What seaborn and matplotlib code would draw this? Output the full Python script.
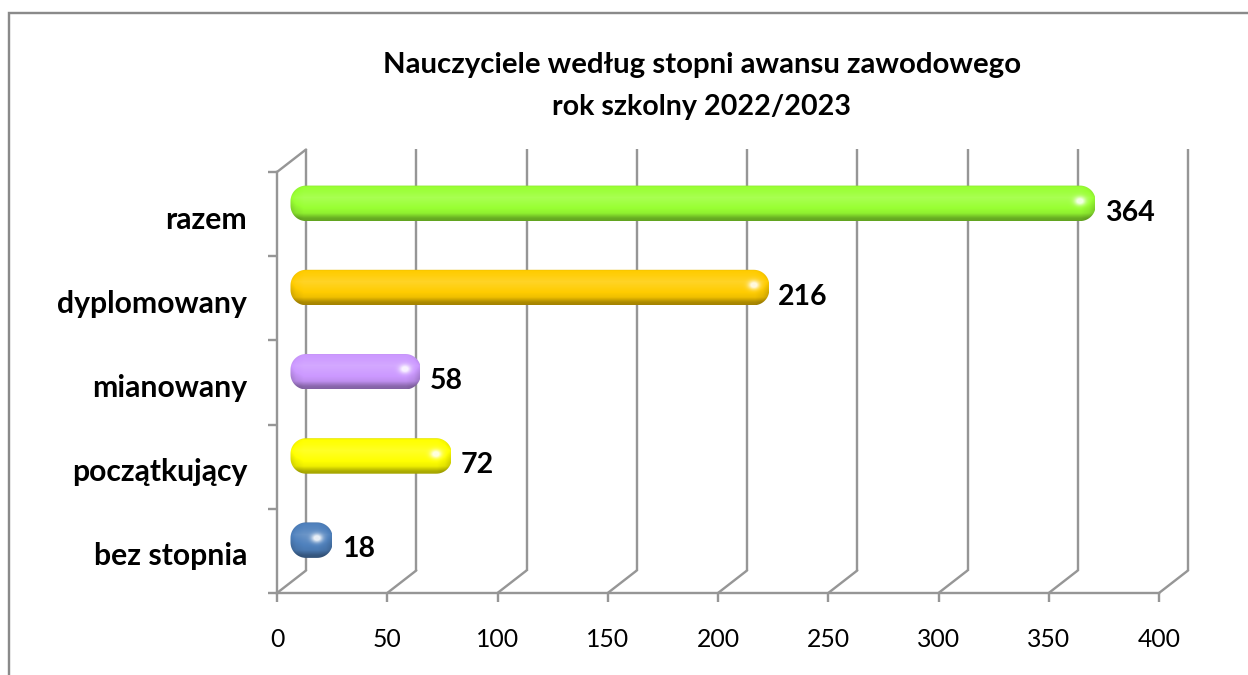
import numpy as np
import pandas as pd
import matplotlib
matplotlib.use("Agg")
import matplotlib.pyplot as plt
import seaborn as sns
from matplotlib.lines import Line2D
from matplotlib.patches import PathPatch
from matplotlib.path import Path
from matplotlib.transforms import Affine2D, IdentityTransform

categories = ["razem", "dyplomowany", "mianowany", "początkujący", "bez stopnia"]
values = [364, 216, 58, 72, 18]
colors = ["#99FF33", "#FFCC00", "#CC99FF", "#FFFF00", "#4F81BD"]
x_ticks = [0, 50, 100, 150, 200, 250, 300, 350, 400]
title = "Nauczyciele według stopni awansu zawodowego\nrok szkolny 2022/2023"

W, H = 1248, 675
GRAY = "#969696"
LW = 2.4 * 72 / 100

sns.set_theme(style="white")
plt.rcParams["font.family"] = ["Lato", "DejaVu Sans"]

fig = plt.figure(figsize=(W / 100, H / 100), dpi=100, facecolor="white")
L, R, T, B = 277, 1159, 172, 593
ax = fig.add_axes([L / W, 1 - B / H, (R - L) / W, (B - T) / H])

df = pd.DataFrame({"kategoria": categories, "liczba": values})
sns.barplot(data=df, y="kategoria", x="liczba", hue="kategoria", palette=colors,
            order=categories, hue_order=categories, legend=False,
            width=35 / 84.2, orient="h", ax=ax)
ax.set_xlim(x_ticks[0], x_ticks[-1])
ax.set_ylim(len(categories) - 0.5, -0.5)
ax.set_xlabel("")
ax.set_ylabel("")
for s in ["top", "right"]:
    ax.spines[s].set_visible(False)
for s in ["left", "bottom"]:
    ax.spines[s].set_color(GRAY)
    ax.spines[s].set_linewidth(LW)
ax.patch.set_alpha(0)

# ticks
ax.set_xticks(x_ticks)
ax.tick_params(axis="x", length=6.5, width=LW, color=GRAY, bottom=True, pad=19,
               labelsize=17.8, labelcolor="black")
ax.set_yticks(np.arange(-0.5, len(categories), 1), minor=True)
ax.tick_params(axis="y", which="minor", length=6.5, width=LW, color=GRAY, left=True)
ax.tick_params(axis="y", which="major", length=0, pad=21.4, labelsize=21.7, labelcolor="black")
for lab in ax.get_yticklabels():
    lab.set_fontweight("bold")
    lab.set_transform(lab.get_transform() + Affine2D().translate(0, -3))

fig.canvas.draw()

# 3D-like walls
DX, DY = 29, 22.5
back = ax.transData + Affine2D().translate(DX, DY)
ymin, ymax = ax.get_ylim()
for v in x_ticks:
    ax.plot([v, v], [ymin, ymax], transform=back, color=GRAY, lw=LW,
            clip_on=False, zorder=1, solid_capstyle="butt")
    x0, y0 = ax.transData.transform((v, ymin))
    fig.add_artist(Line2D([x0, x0 + DX], [y0, y0 + DY], transform=IdentityTransform(),
                          color=GRAY, lw=LW))
x0, y0 = ax.transData.transform((0, ymax))
fig.add_artist(Line2D([x0, x0 + DX], [y0, y0 + DY], transform=IdentityTransform(),
                      color=GRAY, lw=LW))


def tube_outline(x1, y1, x2, y2, rad):
    """Closed outline with true circular corners, in pixels."""
    t = np.linspace(0, np.pi / 2, 16)
    pts = []
    for cx, cy, a in [(x2 - rad, y2 - rad, 0), (x1 + rad, y2 - rad, np.pi / 2),
                      (x1 + rad, y1 + rad, np.pi), (x2 - rad, y1 + rad, 1.5 * np.pi)]:
        pts.append(np.c_[cx + rad * np.cos(t + a), cy + rad * np.sin(t + a)])
    pts = np.vstack(pts)
    return Path(np.vstack([pts, pts[0]]), closed=True)


def glossy(rgb, w, h):
    """Pixel image of a glossy tube in colour rgb."""
    yy, xx = np.mgrid[0:h, 0:w]
    fy = (yy + 0.5) / h
    prof_y = np.interp(fy, [0, 0.05, 0.18, 0.35, 0.6, 0.78, 0.92, 1.0],
                       [-0.12, 0.0, 0.05, 0.15, 0.02, -0.06, -0.32, -0.36])
    dl = np.minimum(xx + 0.5, w - xx - 0.5)
    prof_x = np.interp(dl, [0, 6, 14], [-0.18, -0.06, 0])
    s = prof_y + prof_x
    base = np.array(rgb)[None, None, :]
    img = np.where(s[..., None] >= 0,
                   base + (1 - base) * s[..., None],
                   base * (1 + s[..., None]))
    cx, cy = w - 15.5, h / 2 - 2.5
    g = np.exp(-(((xx - cx) / 5.5) ** 2 + ((yy - cy) / 4.2) ** 2))
    img = img + (1 - img) * np.clip(g * 1.1, 0, 0.85)[..., None]
    return np.clip(img, 0, 1)


# bars: seaborn geometry moved onto the middle of the 3D depth, with rounded tube fill
SX, SY = 14.5, 11
for bar, col, v, i in zip(list(ax.patches), colors, values, range(len(values))):
    (xa, ya), (xb, yb) = ax.transData.transform(
        [(bar.get_x(), bar.get_y()), (bar.get_x() + bar.get_width(), bar.get_y() + bar.get_height())])
    x1, x2 = xa + SX - 1, xb + SX + 1.5
    y1, y2 = min(ya, yb) + SY - 0.5, max(ya, yb) + SY
    bar.set_visible(False)
    w, h = int(round(x2 - x1)), int(round(y2 - y1))
    clip = PathPatch(tube_outline(x1, y1, x2, y2, 15.5), transform=IdentityTransform(),
                     fc="none", ec="none")
    fig.add_artist(clip)
    arr = glossy(matplotlib.colors.to_rgb(col), w, h)
    im = fig.figimage(arr, xo=int(round(x1)), yo=int(round(y1)), origin="upper", zorder=5)
    im.set_clip_path(clip)
    ax.annotate(str(v), xy=(v, i), xytext=(25, 1.5), textcoords="offset pixels",
                ha="left", va="center", fontsize=20.5, fontweight="bold",
                color="black", annotation_clip=False, zorder=6)

line1, line2 = title.split("\n")
fig.text(702 / W, 1 - 65 / H, line1, ha="center", va="center",
         fontsize=21.2, fontweight="bold", color="black")
fig.text(702 / W, 1 - 107 / H, line2, ha="center", va="center",
         fontsize=20.6, fontweight="bold", color="black")

# chart frame (left and top edges only)
fig.add_artist(Line2D([9, 9, W], [0, H - 13, H - 13], transform=IdentityTransform(),
                      color="#8a8a8a", lw=LW, solid_joinstyle="miter"))

fig.savefig("out.png", dpi=100, facecolor="white")
